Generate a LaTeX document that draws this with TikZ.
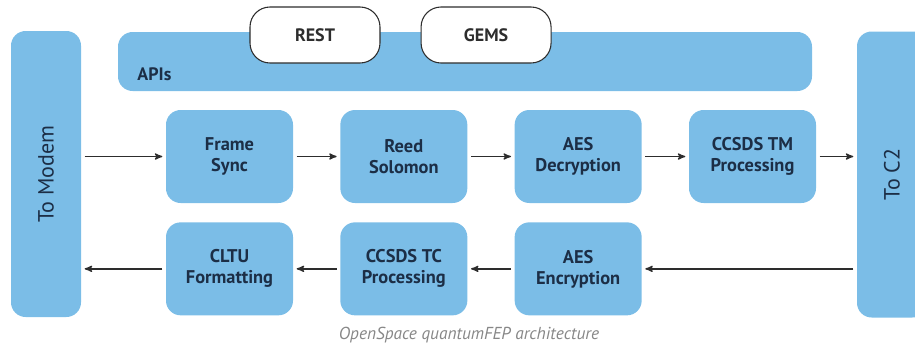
\documentclass[tikz,border=0pt]{standalone}
\usepackage{fontspec}
\setmainfont{PT Sans}
\usetikzlibrary{arrows,positioning}
\definecolor{boxblue}{RGB}{123,189,231}
\definecolor{textnavy}{RGB}{28,46,70}
\definecolor{arrowgray}{RGB}{45,45,45}
\definecolor{captiongray}{RGB}{135,135,135}

\begin{document}
\begin{tikzpicture}[x=0.75pt,y=-0.75pt,->,>=stealth',shorten >=2.25pt,shorten <=2.25pt,
  node distance=34.5pt,line width=1pt,draw=arrowgray,
  block node/.style={rectangle,rounded corners=11pt,fill=boxblue,text=textnavy,align=center,
    minimum width=95.25pt,minimum height=69.75pt,inner sep=0pt,
    font=\fontsize{13.8}{15.75}\selectfont\bfseries},
  bar node/.style={rectangle,rounded corners=11pt,fill=boxblue,text=textnavy,inner sep=0pt,
    minimum width=52.5pt,minimum height=214.5pt,font=\fontsize{16.5}{18}\selectfont},
  api node/.style={rectangle,rounded corners=15pt,fill=white,draw=arrowgray,line width=0.8pt,
    text=arrowgray,minimum width=97.5pt,minimum height=42pt,
    font=\fontsize{13.5}{15.75}\selectfont\bfseries}]

  \useasboundingbox (0,0) rectangle (915,347);

  \node[bar node] (modem) at (46,174) {\rotatebox{90}{To Modem}};
  \node[bar node] (c2) at (892,174.5) {\rotatebox{90}{To C2}};

  \node[rectangle,rounded corners=11pt,fill=boxblue,minimum width=520.5pt,
    minimum height=44.25pt] (apis) at (465,61.5) {};
  \node[anchor=base west,text=textnavy,font=\fontsize{13.5}{15.75}\selectfont\bfseries]
    (apitext) at ([shift={(15,-11)}]apis.south west) {APIs};
  \node[api node] (rest) at (315,35) {REST};
  \node[api node] (gems) [right=30pt of rest] {GEMS};

  \node[block node] (fs) at (229.5,156.5) {Frame\\Sync};
  \node[block node] (rs) [right=of fs] {Reed\\Solomon};
  \node[block node] (aesd) [right=of rs] {AES\\Decryption};
  \node[block node] (tm) [right=of aesd] {CCSDS TM\\Processing};

  \node[block node] (cltu) [below=13.5pt of fs] {CLTU\\Formatting};
  \node[block node] (tc) [below=13.5pt of rs] {CCSDS TC\\Processing};
  \node[block node] (aese) [below=13.5pt of aesd] {AES\\Encryption};

  \path[arrowgray]
    (fs.west -| modem.east) edge (fs)
    (fs) edge (rs)
    (rs) edge (aesd)
    (aesd) edge (tm)
    (tm) edge (tm.east -| c2.west)
    (aese.east -| c2.west) edge (aese)
    (aese) edge (tc)
    (tc) edge (cltu)
    (cltu) edge (cltu.west -| modem.east);

  \node[text=captiongray,font=\fontsize{13}{15}\selectfont\itshape] (caption) at (469,335)
    {OpenSpace quantumFEP architecture};

\end{tikzpicture}
\end{document}
